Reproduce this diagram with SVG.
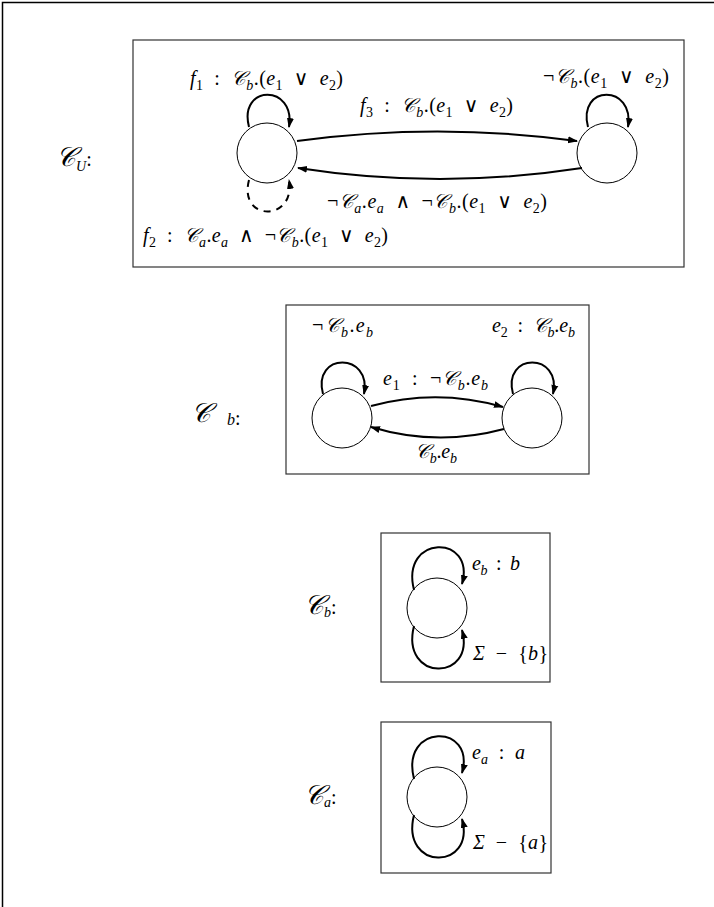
<svg xmlns="http://www.w3.org/2000/svg" width="714" height="907" viewBox="0 0 714 907">
<style>
.frame{fill:none;stroke:#333;stroke-width:1.2}
.st{fill:#fff;stroke:#000;stroke-width:1}
.e{fill:none;stroke:#000;stroke-width:2}
.d{stroke-dasharray:7,6}
.t{font-family:"Liberation Serif","DejaVu Serif",serif;font-size:20px;fill:#000;white-space:pre}
.i{font-style:italic}
.s{font-size:14px}
.big{font-size:27px}
.bs{font-size:20px}
</style>
<defs>
<marker id="ah" viewBox="0 0 10 10" refX="9" refY="5" markerWidth="10" markerHeight="10" markerUnits="userSpaceOnUse" orient="auto">
<path d="M0,1.5 L10,5 L0,8.5 Z" fill="#000"/>
</marker>
</defs>
<path d="M2.5,907 L2.5,2.5 L714,2.5" fill="none" stroke="#000" stroke-width="1.5"/>

<g id="CU">
<rect class="frame" x="133" y="40" width="551" height="227"/>
<text class="t i big" x="56" y="166">𝒞<tspan class="s" font-size="16" dy="5">U</tspan><tspan class="bs" font-style="normal" dy="-5">:</tspan></text>
<g id="cu-s1"><circle class="st" cx="267" cy="153" r="30"/></g>
<g id="cu-s2"><circle class="st" cx="607" cy="153" r="30"/></g>
<text class="t" x="190" y="85" textLength="153" lengthAdjust="spacing"><tspan class="i">f</tspan><tspan class="s" dy="5">1</tspan><tspan dy="-5">  :  </tspan><tspan class="i">𝒞</tspan><tspan class="s i" dy="5">b</tspan><tspan dy="-5">.(</tspan><tspan class="i">e</tspan><tspan class="s" dy="5">1</tspan><tspan dy="-5">  ∨  </tspan><tspan class="i">e</tspan><tspan class="s" dy="5">2</tspan><tspan dy="-5">)</tspan></text>
<text class="t" x="360" y="112" textLength="153" lengthAdjust="spacing"><tspan class="i">f</tspan><tspan class="s" dy="5">3</tspan><tspan dy="-5">  :  </tspan><tspan class="i">𝒞</tspan><tspan class="s i" dy="5">b</tspan><tspan dy="-5">.(</tspan><tspan class="i">e</tspan><tspan class="s" dy="5">1</tspan><tspan dy="-5">  ∨  </tspan><tspan class="i">e</tspan><tspan class="s" dy="5">2</tspan><tspan dy="-5">)</tspan></text>
<text class="t" x="543" y="83" textLength="126" lengthAdjust="spacing">¬<tspan class="i">𝒞</tspan><tspan class="s i" dy="5">b</tspan><tspan dy="-5">.(</tspan><tspan class="i">e</tspan><tspan class="s" dy="5">1</tspan><tspan dy="-5">  ∨  </tspan><tspan class="i">e</tspan><tspan class="s" dy="5">2</tspan><tspan dy="-5">)</tspan></text>
<text class="t" x="327" y="208" textLength="220" lengthAdjust="spacing">¬<tspan class="i">𝒞</tspan><tspan class="s i" dy="5">a</tspan><tspan dy="-5">.</tspan><tspan class="i">e</tspan><tspan class="s i" dy="5">a</tspan><tspan dy="-5">  ∧  ¬</tspan><tspan class="i">𝒞</tspan><tspan class="s i" dy="5">b</tspan><tspan dy="-5">.(</tspan><tspan class="i">e</tspan><tspan class="s" dy="5">1</tspan><tspan dy="-5">  ∨  </tspan><tspan class="i">e</tspan><tspan class="s" dy="5">2</tspan><tspan dy="-5">)</tspan></text>
<text class="t" x="143" y="242" textLength="245" lengthAdjust="spacing"><tspan class="i">f</tspan><tspan class="s" dy="5">2</tspan><tspan dy="-5">  :  </tspan><tspan class="i">𝒞</tspan><tspan class="s i" dy="5">a</tspan><tspan dy="-5">.</tspan><tspan class="i">e</tspan><tspan class="s i" dy="5">a</tspan><tspan dy="-5">  ∧  ¬</tspan><tspan class="i">𝒞</tspan><tspan class="s i" dy="5">b</tspan><tspan dy="-5">.(</tspan><tspan class="i">e</tspan><tspan class="s" dy="5">1</tspan><tspan dy="-5">  ∨  </tspan><tspan class="i">e</tspan><tspan class="s" dy="5">2</tspan><tspan dy="-5">)</tspan></text>
</g>

<g id="Cb1">
<rect class="frame" x="286" y="305" width="303" height="169"/>
<text class="t i big" x="191" y="422">𝒞</text>
<text class="t i" x="227" y="425"><tspan font-size="16">b</tspan><tspan class="bs" font-style="normal">:</tspan></text>
<g id="cb1-s1"><circle class="st" cx="342" cy="418" r="30"/></g>
<g id="cb1-s2"><circle class="st" cx="532" cy="418" r="30"/></g>
<text class="t" x="312" y="332" textLength="61" lengthAdjust="spacing">¬<tspan class="i">𝒞</tspan><tspan class="s i" dy="5">b</tspan><tspan dy="-5">.</tspan><tspan class="i">e</tspan><tspan class="s i" dy="5">b</tspan></text>
<text class="t" x="492" y="332" textLength="83" lengthAdjust="spacing"><tspan class="i">e</tspan><tspan class="s" dy="5">2</tspan><tspan dy="-5">  :  </tspan><tspan class="i">𝒞</tspan><tspan class="s i" dy="5">b</tspan><tspan dy="-5">.</tspan><tspan class="i">e</tspan><tspan class="s i" dy="5">b</tspan></text>
<text class="t" x="383" y="385" textLength="105" lengthAdjust="spacing"><tspan class="i">e</tspan><tspan class="s" dy="5">1</tspan><tspan dy="-5">  :  ¬</tspan><tspan class="i">𝒞</tspan><tspan class="s i" dy="5">b</tspan><tspan dy="-5">.</tspan><tspan class="i">e</tspan><tspan class="s i" dy="5">b</tspan></text>
<text class="t" x="415" y="458" textLength="42" lengthAdjust="spacing"><tspan class="i">𝒞</tspan><tspan class="s i" dy="5">b</tspan><tspan dy="-5">.</tspan><tspan class="i">e</tspan><tspan class="s i" dy="5">b</tspan></text>
</g>

<g id="Cb2">
<rect class="frame" x="381" y="533" width="169" height="149"/>
<text class="t i big" x="304" y="614">𝒞<tspan class="s" font-size="16" dy="3">b</tspan><tspan class="bs" font-style="normal" dy="-3">:</tspan></text>
<g id="cb2-s"><circle class="st" cx="437" cy="608" r="30"/></g>
<text class="t" x="472" y="570" textLength="48" lengthAdjust="spacing"><tspan class="i">e</tspan><tspan class="s i" dy="5">b</tspan><tspan dy="-5">  :  </tspan><tspan class="i">b</tspan></text>
<text class="t" x="473" y="660" textLength="75" lengthAdjust="spacing"><tspan class="i">Σ</tspan>  −  {<tspan class="i">b</tspan>}</text>
</g>

<g id="Ca">
<rect class="frame" x="381" y="722" width="170" height="151"/>
<text class="t i big" x="304" y="804">𝒞<tspan class="s" font-size="16" dy="3">a</tspan><tspan class="bs" font-style="normal" dy="-3">:</tspan></text>
<g id="ca-s"><circle class="st" cx="437" cy="797" r="30"/></g>
<text class="t" x="472" y="759" textLength="53" lengthAdjust="spacing"><tspan class="i">e</tspan><tspan class="s i" dy="5">a</tspan><tspan dy="-5">  :  </tspan><tspan class="i">a</tspan></text>
<text class="t" x="473" y="849" textLength="75" lengthAdjust="spacing"><tspan class="i">Σ</tspan>  −  {<tspan class="i">a</tspan>}</text>
</g>

<g id="connectors">
<path class="e" d="M249,127 C238,84 296,84 289,127" marker-end="url(#ah)"/>
<path class="e d" d="M249,180 C238,222 296,222 289,180" marker-end="url(#ah)"/>
<path class="e" d="M588,127 C577,84 635,84 628,127" marker-end="url(#ah)"/>
<path class="e" d="M297,141 Q438,122 577,141" marker-end="url(#ah)"/>
<path class="e" d="M582,168 Q440,190 298,168" marker-end="url(#ah)"/>

<path class="e" d="M323,394 C312,352 372,352 364,394" marker-end="url(#ah)"/>
<path class="e" d="M513,394 C502,352 562,352 553,394" marker-end="url(#ah)"/>
<path class="e" d="M371,406 Q437,388 503,407" marker-end="url(#ah)"/>
<path class="e" d="M504,429 Q437,447 371,427" marker-end="url(#ah)"/>

<path class="e" d="M414,590 C400,534 476,534 462,584" marker-end="url(#ah)"/>
<path class="e" d="M414,626 C400,682 476,682 462,630" marker-end="url(#ah)"/>

<path class="e" d="M414,779 C400,723 476,723 462,773" marker-end="url(#ah)"/>
<path class="e" d="M414,815 C400,871 476,871 462,819" marker-end="url(#ah)"/>
</g>
</svg>
